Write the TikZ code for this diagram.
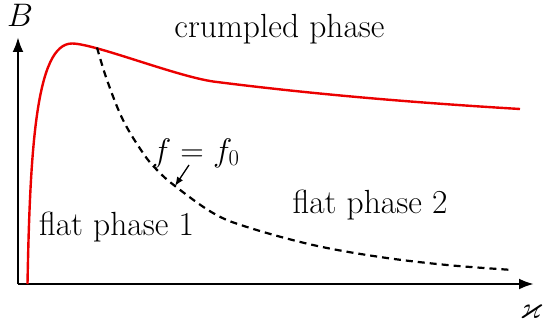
\documentclass[tikz,border=0pt]{standalone}
\usepackage{amssymb}
\usetikzlibrary{arrows.meta}
\newcommand{\bigmath}[1]{\scalebox{1.31}{\fontsize{24}{29}\selectfont$#1$}}
\begin{document}
\begin{tikzpicture}[x=1pt,y=-1pt,
  axis/.style={line width=2.6pt,-{Latex[length=15pt,width=11pt]}},
  redcurve/.style={red!92!black,line width=2.4pt},
  dashcurve/.style={black,line width=2.2pt,dash pattern=on 7pt off 5pt},
  lbl/.style={font=\fontsize{33.5}{40}\selectfont,inner sep=0pt,anchor=base}]
\useasboundingbox (0,0) rectangle (544,329);
\coordinate (O) at (18,284);
\coordinate (Ytip) at (18,37);
\coordinate (Xtip) at (534,284);
\draw[axis] (O) -- (Ytip);
\draw[axis] (O) -- (Xtip);
\node[lbl] (B) at (20,27) {\bigmath{B}};
\node[lbl] (K) at (531,318) {\bigmath{\varkappa}};
\draw[redcurve] (27.5,284) .. controls (30,150) and (36,43.5) .. (72,43.5)
  .. controls (95,43.5) and (180,78) .. (217,82)
  .. controls (320,95) and (420,103) .. (520,109);
\coordinate (D0) at (97,47.5);
\draw[dashcurve] plot[smooth,tension=0.6] coordinates {
  (D0) (107,80) (123,120) (143,153) (157,170) (175,186) (213,213)
  (247,227) (313,245) (380,257) (447,265) (513,270)};
\node[lbl] (crump) at (279.5,38) {crumpled phase};
\node[lbl] (f1) at (116.5,235) {flat phase 1};
\node[lbl] (f2) at (370,213) {flat phase 2};
\node[lbl] (ff) at (196,161) {\bigmath{f=f_0}};
\coordinate (tgt) at (175,186);
\draw[line width=1.3pt,-{Latex[length=9pt,width=7pt]}] (189,165) -- (tgt);
\end{tikzpicture}
\end{document}
